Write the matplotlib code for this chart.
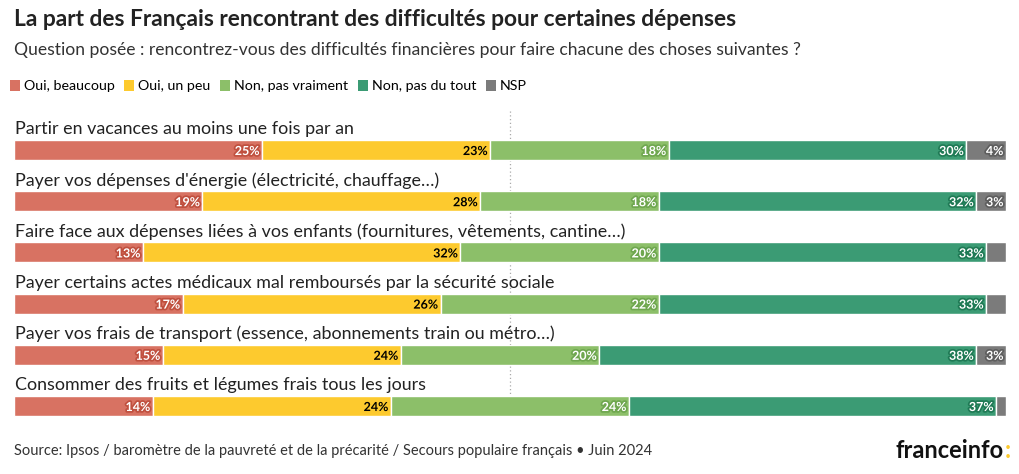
import matplotlib.pyplot as plt
import matplotlib.patheffects as pe
from matplotlib.patches import Patch

# data
categories = [
    "Partir en vacances au moins une fois par an",
    "Payer vos dépenses d'énergie (électricité, chauffage…)",
    "Faire face aux dépenses liées à vos enfants (fournitures, vêtements, cantine…)",
    "Payer certains actes médicaux mal remboursés par la sécurité sociale",
    "Payer vos frais de transport (essence, abonnements train ou métro…)",
    "Consommer des fruits et légumes frais tous les jours",
]
oui_beaucoup = [25, 19, 13, 17, 15, 14]
oui_un_peu = [23, 28, 32, 26, 24, 24]
non_pas_vraiment = [18, 18, 20, 22, 20, 24]
non_pas_du_tout = [30, 32, 33, 33, 38, 37]
nsp = [4, 3, 2, 2, 3, 1]

series_names = ["Oui, beaucoup", "Oui, un peu", "Non, pas vraiment", "Non, pas du tout", "NSP"]
series = [oui_beaucoup, oui_un_peu, non_pas_vraiment, non_pas_du_tout, nsp]
colors = ["#d87262", "#fdca2e", "#8cbf69", "#3b9b74", "#7b7b7b"]
text_colors = ["white", "black", "white", "white", "white"]
stroke_colors = ["#c0503f", "#fdca2e", "#6fa74f", "#1f7a55", "#5e5e5e"]

plt.rcParams['font.family'] = ['Lato', 'DejaVu Sans']

W, H = 1020, 474
fig = plt.figure(figsize=(W / 100, H / 100), dpi=100)

# axes in pixel layout: x 14..1006, y 110..425
ax = fig.add_axes([14 / W, 1 - 425 / H, 992 / W, 315 / H])
row_step = 51.2
ax.set_xlim(0, 100)
ax.set_ylim((425 - 150) / row_step, (110 - 150) / row_step)
ax.axis('off')

bar_h = 20 / row_step
n = len(categories)
for i in range(n):
    left = 0
    for s, vals in enumerate(series):
        v = vals[i]
        ax.barh(i, v, left=left, height=bar_h, color=colors[s],
                edgecolor='white', linewidth=1)
        if v >= 3:
            ax.text(left + v - 0.25, i + 0.02, f"{v}%", ha='right', va='center',
                    fontsize=9, fontweight='bold', color=text_colors[s],
                    path_effects=[pe.withStroke(linewidth=2.5, foreground=stroke_colors[s])])
        left += v
    ax.text(0.15, i - bar_h / 2 - 0.05, categories[i], ha='left', va='bottom',
            fontsize=12.9, color='#222222')

ax.axvline(50, ymin=0.03, ymax=1, color='#aaaaaa', linestyle=(0, (1, 2)),
           linewidth=0.9, zorder=0)

# titles
fig.text(14 / W, 1 - 20 / H, "La part des Français rencontrant des difficultés pour certaines dépenses",
         fontsize=16.4, fontweight='bold', color='#222222', va='center')
fig.text(14 / W, 1 - 50 / H,
         "Question posée : rencontrez-vous des difficultés financières pour faire chacune des choses suivantes ?",
         fontsize=12.6, color='#333333', va='center')

handles = [Patch(facecolor=c, edgecolor='none') for c in colors]
fig.legend(handles, series_names, loc='center left', bbox_to_anchor=(10 / W, 1 - 86 / H),
           ncol=5, frameon=False, fontsize=10.3, handlelength=0.7, handleheight=0.9,
           handletextpad=0.25, columnspacing=0.7, borderaxespad=0, borderpad=0)

fig.text(14 / W, 1 - 451 / H,
         "Source: Ipsos / baromètre de la pauvreté et de la précarité / Secours populaire français • Juin 2024",
         fontsize=10.5, color='#333333', va='center')
fig.text(1004 / W, 1 - 451 / H, "franceinfo", fontsize=17, fontweight='bold',
         color='#111111', va='center', ha='right')
fig.text(1011 / W, 1 - 451 / H, ":", fontsize=17, fontweight='bold',
         color='#fdca2e', va='center', ha='right')

fig.savefig("out.png", dpi=100, facecolor='white')
